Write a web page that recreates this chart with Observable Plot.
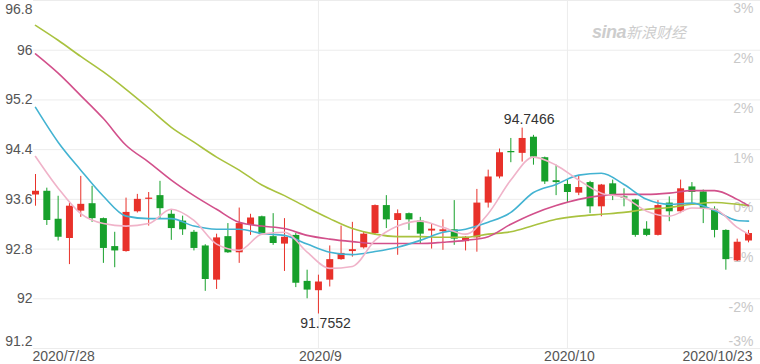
<!DOCTYPE html>
<html><head><meta charset="utf-8">
<script src="https://cdn.jsdelivr.net/npm/d3@7"></script>
<script src="https://cdn.jsdelivr.net/npm/@observablehq/plot@0.6"></script>
<style>
body{margin:0;background:#fff;}
#wrap{position:relative;width:760px;height:364px;overflow:hidden;}
#wm{position:absolute;left:592px;top:21px;color:#cdcdcd;font-style:italic;white-space:nowrap;}
#wm .a{font:bold italic 18px "Liberation Sans",Arial,sans-serif;letter-spacing:-0.5px;}
#wm .b{font:italic 15px "Noto Sans CJK SC",sans-serif;}
</style>
</head><body>
<div id="wrap"><div id="chart"></div><div id="wm"><span class="a">sina</span><span class="b">新浪财经</span></div></div>
<script>
// trading days
const dates = ["2020-07-28","2020-07-29","2020-07-30","2020-07-31",
"2020-08-03","2020-08-04","2020-08-05","2020-08-06","2020-08-07",
"2020-08-10","2020-08-11","2020-08-12","2020-08-13","2020-08-14",
"2020-08-17","2020-08-18","2020-08-19","2020-08-20","2020-08-21",
"2020-08-24","2020-08-25","2020-08-26","2020-08-27","2020-08-28","2020-08-31",
"2020-09-01","2020-09-02","2020-09-03","2020-09-04",
"2020-09-07","2020-09-08","2020-09-09","2020-09-10","2020-09-11",
"2020-09-14","2020-09-15","2020-09-16","2020-09-17","2020-09-18",
"2020-09-21","2020-09-22","2020-09-23","2020-09-24","2020-09-25",
"2020-09-28","2020-09-29","2020-09-30",
"2020-10-01","2020-10-02",
"2020-10-05","2020-10-06","2020-10-07","2020-10-08","2020-10-09",
"2020-10-12","2020-10-13","2020-10-14","2020-10-15","2020-10-16",
"2020-10-19","2020-10-20","2020-10-21","2020-10-22","2020-10-23"];
const open  = [93.67,93.73,93.28,92.97,93.41,93.53,93.29,92.84,92.76,93.40,93.60,93.66,93.36,93.25,93.07,92.85,92.30,93.00,92.74,93.18,93.32,93.00,92.88,93.02,92.28,92.13,92.30,92.63,92.76,92.82,93.05,93.50,93.26,93.37,93.25,93.09,93.08,93.11,92.92,92.98,93.54,93.96,94.37,94.34,94.60,94.27,93.90,93.84,93.70,93.87,93.48,93.85,93.64,93.59,93.12,93.02,93.54,93.40,93.80,93.72,93.44,93.10,92.61,92.93];
const high  = [94.00,93.78,93.65,93.54,93.97,93.81,93.30,93.07,93.62,93.68,93.71,93.89,93.42,93.33,93.10,92.87,93.04,93.21,93.46,93.36,93.33,93.37,93.29,93.05,92.46,92.38,92.85,93.17,93.23,93.07,93.51,93.66,93.43,93.38,93.31,93.20,93.27,93.58,93.00,93.76,94.07,94.41,94.58,94.7466,94.63,94.28,94.15,93.91,93.97,93.89,93.84,93.91,93.77,93.60,93.24,93.58,93.64,93.91,93.87,93.75,93.48,93.11,92.96,93.10];
const low   = [93.49,93.18,92.93,92.55,93.31,93.23,92.57,92.50,92.75,93.38,93.17,93.29,92.94,93.02,92.77,92.12,92.15,92.73,92.57,93.02,93.02,92.86,92.44,92.18,92.00,91.7552,92.19,92.62,92.67,92.80,93.02,93.13,92.70,93.10,92.88,92.80,92.78,92.86,92.77,92.75,93.46,93.93,94.19,94.20,94.15,93.84,93.66,93.54,93.66,93.37,93.32,93.58,93.48,92.99,93.00,93.01,93.24,93.37,93.53,93.21,92.98,92.46,92.60,92.90];
const close = [93.73,93.26,92.99,93.49,93.52,93.29,92.81,92.77,93.39,93.60,93.62,93.45,93.13,93.11,92.81,92.31,92.98,92.74,93.21,93.30,93.04,92.89,92.99,92.25,92.14,92.27,92.63,92.73,92.79,93.04,93.50,93.27,93.37,93.27,93.04,93.12,93.11,92.96,92.99,93.54,93.96,94.35,94.35,94.58,94.28,93.88,93.87,93.71,93.79,93.48,93.83,93.67,93.62,93.02,93.02,93.50,93.40,93.77,93.71,93.44,93.10,92.63,92.91,93.05];

// moving averages read at these trading-day positions
const maIdx = [0,2,4,6,8,10,12,14,16,18,20,22,24,26,28,30,32,34,36,38,40,42,44,46,48,50,52,54,56,58,60,62,63];
const ma5  = [94.29,93.78,93.37,93.21,93.17,93.21,93.44,93.26,92.88,92.78,93.04,93.07,92.75,92.49,92.52,92.94,93.17,93.25,93.15,93.04,93.37,93.91,94.28,94.15,93.91,93.70,93.63,93.41,93.33,93.46,93.44,93.15,93.04];
const ma10 = [95.08,94.52,94.07,93.65,93.33,93.29,93.29,93.17,93.12,93.12,93.05,93.02,92.88,92.75,92.71,92.76,92.83,92.94,93.07,93.12,93.23,93.39,93.71,93.84,93.99,94.02,93.84,93.60,93.52,93.54,93.42,93.26,93.25];
const ma20 = [95.94,95.63,95.27,94.90,94.47,94.20,93.91,93.66,93.44,93.23,93.17,93.13,93.02,92.96,92.92,92.89,92.89,92.89,92.91,92.94,93.00,93.20,93.37,93.50,93.60,93.66,93.68,93.68,93.70,93.74,93.74,93.60,93.50];
const ma30 = [96.40,96.16,95.90,95.65,95.37,95.07,94.76,94.52,94.28,94.07,93.83,93.66,93.47,93.29,93.13,93.04,93.00,93.00,92.99,92.99,93.04,93.08,93.18,93.28,93.33,93.36,93.39,93.44,93.47,93.52,93.55,93.52,93.50];

const yTicks = [91.2,92,92.8,93.6,94.4,95.2,96,96.8];
const pctLabels = ["-3%","-2%","-1%","0%","1%","2%","2%","3%"];
const xTickDates = ["2020-07-28","2020-09-01","2020-10-01","2020-10-23"];
const xTickLabels = ["2020/7/28","2020/9","2020/10","2020/10/23"];
const gridDates = ["2020-09-01","2020-10-01"];

const UP = "#e8312a", DOWN = "#17a02b";
const pos = d => dates.indexOf(d);
const candles = dates.map((d,i)=>({i,date:d,o:open[i],h:high[i],l:low[i],c:close[i]}));
const col = d => d.c >= d.o ? UP : DOWN;
const maRows = (arr,name) => arr.map((v,k)=>({i:maIdx[k],v,name}));

const maxI = d3.maxIndex(high), minI = d3.minIndex(low);
const pctRows = yTicks.map((v,i)=>({v,t:pctLabels[i]}));
const xRows = xTickDates.map((d,i)=>({i:pos(d),t:xTickLabels[i]}));

const axisFont = {fontSize: 14, fill: "#555"};

const chart = Plot.plot({
  width: 760, height: 364,
  marginLeft: 33, marginRight: 0, marginTop: 0, marginBottom: 16,
  style: {fontFamily: "'Liberation Sans', Arial, sans-serif", background: "transparent"},
  x: {type: "linear", domain: [0, dates.length - 1], range: [35, 748], axis: null},
  y: {domain: [91.2, 96.8], axis: null},
  marks: [
    Plot.ruleY(yTicks, {y: d=>d, stroke: "#ececec"}),
    Plot.ruleX(gridDates, {x: pos, stroke: "#ececec"}),
    // right percent labels
    Plot.text(pctRows.slice(1), {y: "v", text: "t", frameAnchor: "right", textAnchor: "end", dx: -7, dy: 8.5, fontSize: 14, fill: "#c8c8c8"}),
    Plot.text(pctRows.slice(0,1), {y: "v", text: "t", frameAnchor: "right", textAnchor: "end", dx: -7, dy: -7, fontSize: 14, fill: "#c8c8c8"}),
    // left value labels
    Plot.text(yTicks.slice(1,-1), {y: d=>d, text: d=>String(d), frameAnchor: "left", textAnchor: "end", dx: -1, ...axisFont}),
    Plot.text(yTicks.slice(-1), {y: d=>d, text: d=>String(d), frameAnchor: "left", textAnchor: "end", dx: -1, dy: 9, ...axisFont}),
    Plot.text(yTicks.slice(0,1), {y: d=>d, text: d=>String(d), frameAnchor: "left", textAnchor: "end", dx: -1, dy: -7, ...axisFont}),
    // x labels
    Plot.text(xRows.slice(0,1), {x: "i", text: "t", frameAnchor: "bottom", lineAnchor: "top", dy: 3, textAnchor: "start", dx: -3, ...axisFont}),
    Plot.text(xRows.slice(1,3), {x: "i", text: "t", frameAnchor: "bottom", lineAnchor: "top", dy: 3, textAnchor: "middle", dx: 2, ...axisFont}),
    Plot.text(xRows.slice(3), {x: "i", text: "t", frameAnchor: "bottom", lineAnchor: "top", dy: 3, textAnchor: "end", dx: 4, ...axisFont}),
    // candles
    Plot.ruleX(candles, {x: "i", y1: "l", y2: "h", stroke: col, strokeWidth: 1}),
    Plot.ruleX(candles, {x: "i", y1: "o", y2: "c", stroke: col, strokeWidth: 7, strokeLinecap: "butt"}),
    // moving averages
    Plot.line(maRows(ma30,"ma30"), {x: "i", y: "v", stroke: "#a9c23f", strokeWidth: 1.6, curve: "monotone-x"}),
    Plot.line(maRows(ma20,"ma20"), {x: "i", y: "v", stroke: "#d2508b", strokeWidth: 1.6, curve: "monotone-x"}),
    Plot.line(maRows(ma10,"ma10"), {x: "i", y: "v", stroke: "#43b3d2", strokeWidth: 1.6, curve: "monotone-x"}),
    Plot.line(maRows(ma5,"ma5"), {x: "i", y: "v", stroke: "#f0b3c9", strokeWidth: 1.6, curve: "monotone-x"}),
    // extreme annotations
    Plot.text([candles[maxI]], {x: "i", y: "h", text: d=>d.h.toFixed(4), dx: 7, dy: -9, fontSize: 14, fill: "#333"}),
    Plot.text([candles[minI]], {x: "i", y: "l", text: d=>d.l.toFixed(4), dx: 7, dy: 10, fontSize: 14, fill: "#333"})
  ]
});
document.getElementById("chart").appendChild(chart);
</script>
</body></html>
